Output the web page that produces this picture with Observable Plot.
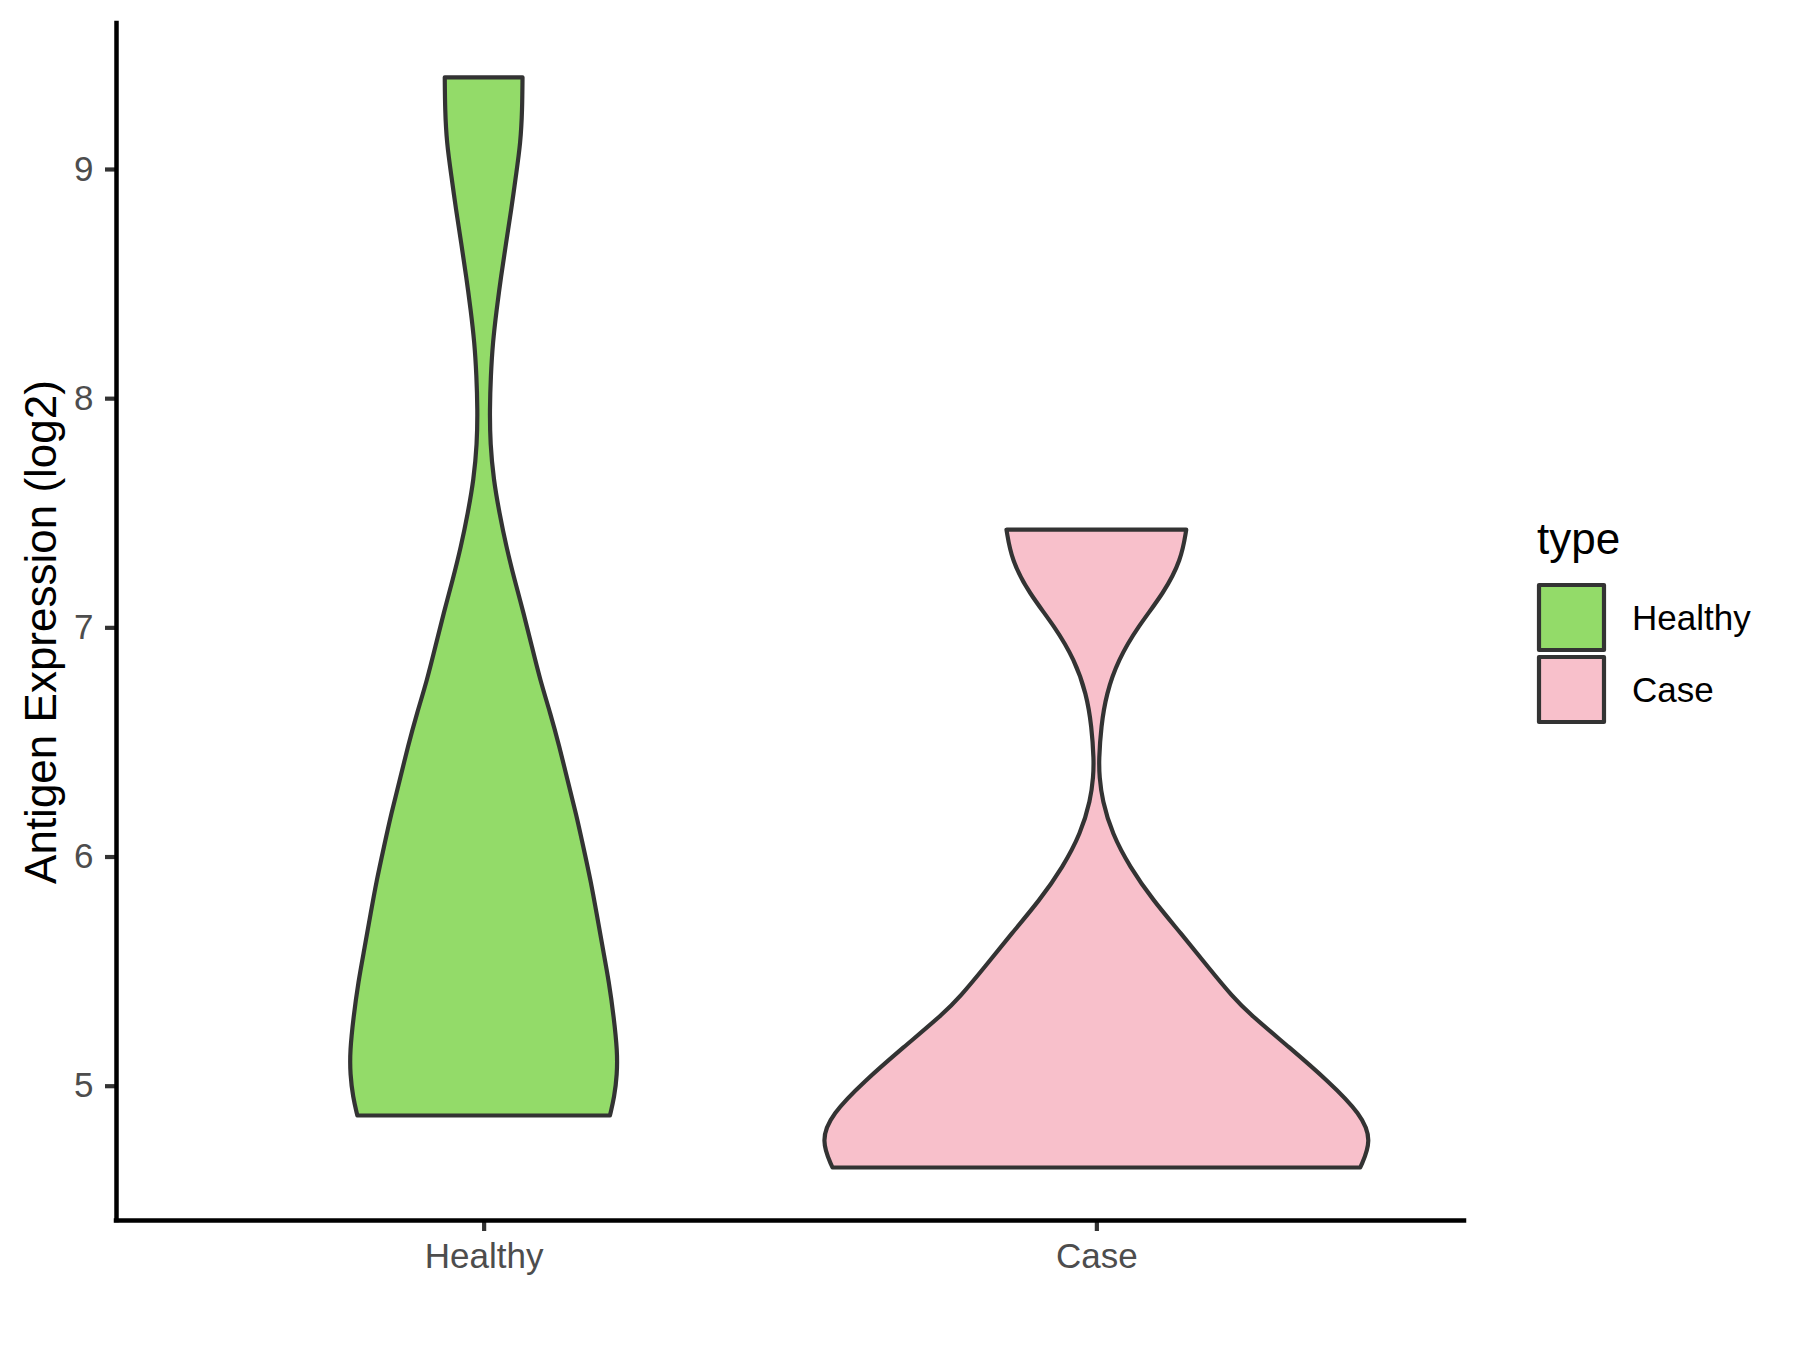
<!DOCTYPE html>
<html>
<head>
<meta charset="utf-8">
<script src="https://cdn.jsdelivr.net/npm/d3@7"></script>
<script src="https://cdn.jsdelivr.net/npm/@observablehq/plot@0.6"></script>
<style>
  html, body { margin: 0; padding: 0; background: #ffffff; }
  #wrap { position: relative; width: 1800px; height: 1350px; }
  #legend { position: absolute; left: 1500px; top: 480px; }
</style>
</head>
<body>
<div id="wrap"></div>
<script>
// ---- data ----
const categories = ["Healthy", "Case"];
const fillColors = ["#93DB69", "#F8C0CB"];
const yTicks = [5, 6, 7, 8, 9];

// Healthy violin: expression value (log2) and relative density (max over both = 1)
const healthyY = [9.40, 9.26, 9.115, 8.97, 8.82, 8.675, 8.53, 8.386, 8.24, 8.10, 7.95, 7.80, 7.645, 7.50, 7.353, 7.208, 7.062, 6.916, 6.77, 6.625, 6.479, 6.334, 6.188, 6.04, 5.896, 5.75, 5.60, 5.45, 5.30, 5.15, 5.05, 4.95, 4.87];
const healthyDensity = [0.141, 0.140, 0.134, 0.117, 0.100, 0.081, 0.063, 0.047, 0.033, 0.026, 0.022, 0.024, 0.036, 0.057, 0.082, 0.112, 0.145, 0.175, 0.205, 0.242, 0.275, 0.304, 0.335, 0.362, 0.388, 0.410, 0.432, 0.455, 0.472, 0.485, 0.484, 0.474, 0.458];

// Case violin
const caseY = [7.426, 7.295, 7.15, 7.004, 6.858, 6.71, 6.567, 6.42, 6.35, 6.246, 6.10, 5.955, 5.81, 5.663, 5.518, 5.387, 5.313, 5.167, 5.02, 4.876, 4.76, 4.643];
const caseDensity = [0.326, 0.308, 0.245, 0.151, 0.079, 0.036, 0.017, 0.009, 0.011, 0.021, 0.057, 0.121, 0.205, 0.308, 0.405, 0.495, 0.556, 0.700, 0.841, 0.960, 1.000, 0.957];

// ---- build table for the library ----
const halfWidth = 0.45; // ggplot violin width 0.9
const series = [[healthyY, healthyDensity], [caseY, caseDensity]];
const rows = [];
series.forEach(([ys, ds], i) => {
  const pos = i + 1;
  ys.forEach((y, j) => rows.push({type: categories[i], y, x1: pos - ds[j] * halfWidth, x2: pos + ds[j] * halfWidth}));
});

const xDomain = [0.4, 2.6];
const yDomain = [4.414, 9.637];
const font = "'Liberation Sans', Arial, Helvetica, sans-serif";

const chart = Plot.plot({
  width: 1800,
  height: 1350,
  marginTop: 23,
  marginBottom: 130,
  marginLeft: 116,
  marginRight: 336,
  style: {fontFamily: font, fontSize: "35px", background: "#ffffff", color: "#000"},
  x: {domain: xDomain, axis: null},
  y: {domain: yDomain, axis: null},
  color: {domain: categories, range: fillColors},
  marks: [
    Plot.areaX(rows, {y: "y", x1: "x1", x2: "x2", z: "type", fill: "type", stroke: "#333333", strokeWidth: 4.2, strokeLinejoin: "round", curve: "basis"}),
    Plot.axisY({ticks: yTicks, tickSize: 11, tickPadding: 12, stroke: "#333333", strokeWidth: 4.2, fill: "#4D4D4D", label: null, tickFormat: d => String(d)}),
    Plot.axisX({ticks: [1, 2], tickSize: 11, tickPadding: 12, stroke: "#333333", strokeWidth: 4.2, fill: "#4D4D4D", label: null, tickFormat: d => categories[d - 1]}),
    Plot.ruleX([xDomain[0]], {stroke: "#000", strokeWidth: 4.5, strokeLinecap: "square"}),
    Plot.ruleY([yDomain[0]], {stroke: "#000", strokeWidth: 4.5, strokeLinecap: "square"}),
    Plot.text(["Antigen Expression (log2)"], {frameAnchor: "left", textAnchor: "middle", rotate: -90, dx: -75, dy: 10, fontSize: 44, fill: "#000"})
  ]
});
document.getElementById("wrap").appendChild(chart);

// ---- legend (beside the plot) ----
const leg = d3.select("#wrap").append("svg")
  .attr("id", "legend")
  .attr("width", 300).attr("height", 280)
  .style("font-family", font);
leg.append("text").attr("x", 37).attr("y", 74).attr("font-size", 44).attr("fill", "#000").text("type");
categories.forEach((c, i) => {
  leg.append("rect")
    .attr("x", 39).attr("y", 105 + i * 72).attr("width", 65).attr("height", 65)
    .attr("fill", fillColors[i]).attr("stroke", "#333333").attr("stroke-width", 4.2)
    .attr("stroke-linejoin", "round");
  leg.append("text").attr("x", 132).attr("y", 150 + i * 72)
    .attr("font-size", 35).attr("fill", "#000").text(c);
});
</script>
</body>
</html>
